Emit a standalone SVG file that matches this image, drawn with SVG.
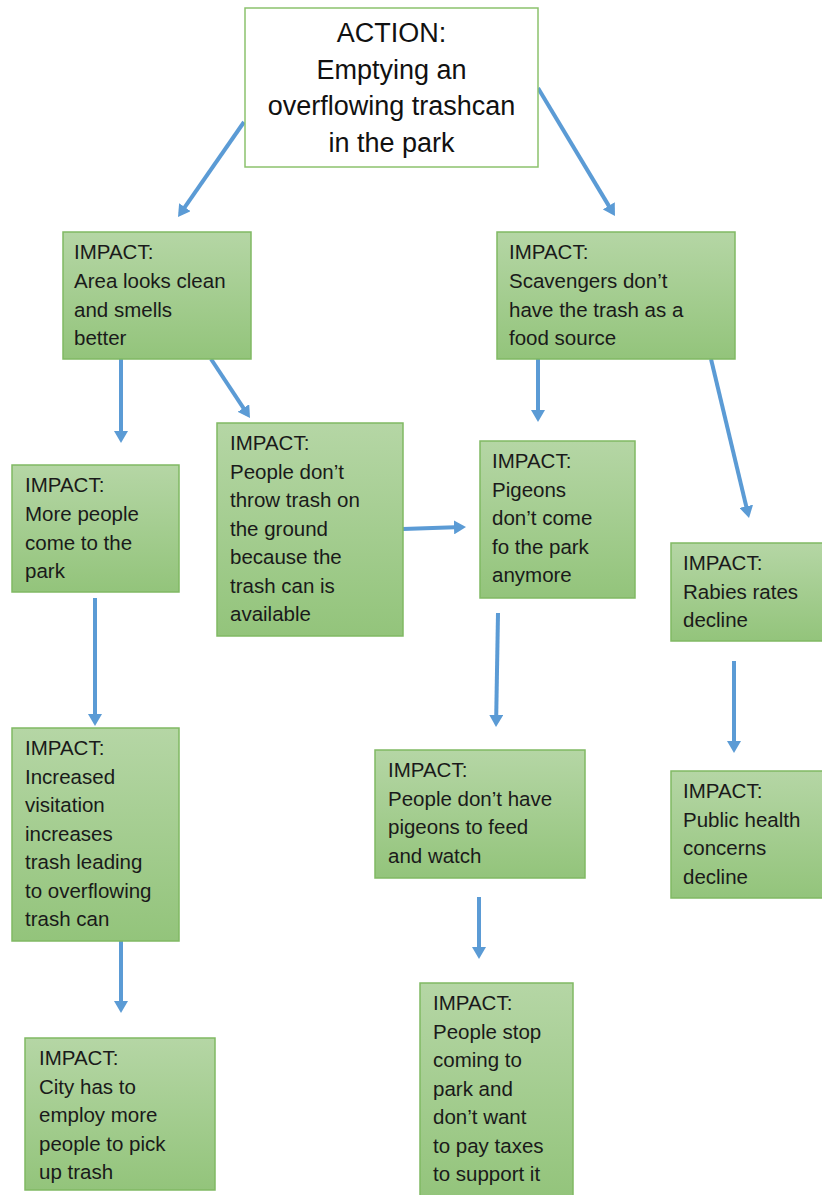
<svg xmlns="http://www.w3.org/2000/svg" width="822" height="1195" viewBox="0 0 822 1195">
<defs>
<linearGradient id="g" x1="0" y1="0" x2="0" y2="1">
<stop offset="0" stop-color="#b5d6a5"/>
<stop offset="1" stop-color="#93c47b"/>
</linearGradient>
<marker id="ah" markerUnits="userSpaceOnUse" markerWidth="14" markerHeight="14" refX="8" refY="7" orient="auto">
<path d="M0,0 L12,7 L0,14 z" fill="#5b9bd5"/>
</marker>
<style>
.box{fill:url(#g);stroke:#80b963;stroke-width:1.5}
.act{fill:#ffffff;stroke:#8cc26d;stroke-width:1.5}
.t{font-family:"Liberation Sans",Arial,sans-serif;font-size:20.5px;fill:#1a1a1a}
.at{font-family:"Liberation Sans",Arial,sans-serif;font-size:27px;fill:#111111;text-anchor:middle}
.c line{stroke:#5b9bd5;stroke-width:4;marker-end:url(#ah)}
</style>
</defs>
<rect width="822" height="1195" fill="#ffffff"/>
<g class="c" id="connectors">
<line x1="244" y1="122" x2="180.3" y2="213.7"/>
<line x1="538" y1="88" x2="612.9" y2="212.6"/>
<line x1="121" y1="359" x2="121" y2="439"/>
<line x1="211" y1="359" x2="247.8" y2="414.7"/>
<line x1="538" y1="359" x2="538" y2="418"/>
<line x1="711" y1="359" x2="748.1" y2="514.1"/>
<line x1="403" y1="529" x2="462" y2="527.1"/>
<line x1="95" y1="598" x2="95" y2="722"/>
<line x1="121" y1="941" x2="121" y2="1009"/>
<line x1="498" y1="613" x2="496.1" y2="723"/>
<line x1="734" y1="661" x2="734" y2="749"/>
<line x1="479" y1="897" x2="479" y2="955"/>
</g>
<g id="action">
<rect class="act" x="245" y="8" width="293" height="159"/>
<text class="at" x="391.5" y="42">ACTION:</text>
<text class="at" x="391.5" y="78.5">Emptying an</text>
<text class="at" x="391.5" y="115">overflowing trashcan</text>
<text class="at" x="391.5" y="151.5">in the park</text>
</g>
<g id="area">
<rect class="box" x="63" y="232" width="188" height="127"/>
<text class="t" x="74"><tspan x="74" y="259">IMPACT:</tspan><tspan x="74" y="288">Area looks clean</tspan><tspan x="74" y="317">and smells</tspan><tspan x="74" y="345">better</tspan></text>
</g>
<g id="scavengers">
<rect class="box" x="497" y="232" width="238" height="127"/>
<text class="t"><tspan x="509" y="259">IMPACT:</tspan><tspan x="509" y="288">Scavengers don’t</tspan><tspan x="509" y="317">have the trash as a</tspan><tspan x="509" y="345">food source</tspan></text>
</g>
<g id="more-people">
<rect class="box" x="12" y="465" width="167" height="127"/>
<text class="t"><tspan x="25" y="492">IMPACT:</tspan><tspan x="25" y="521">More people</tspan><tspan x="25" y="550">come to the</tspan><tspan x="25" y="578">park</tspan></text>
</g>
<g id="no-litter">
<rect class="box" x="217" y="423" width="186" height="213"/>
<text class="t"><tspan x="230" y="450">IMPACT:</tspan><tspan x="230" y="479">People don’t</tspan><tspan x="230" y="507">throw trash on</tspan><tspan x="230" y="536">the ground</tspan><tspan x="230" y="564">because the</tspan><tspan x="230" y="593">trash can is</tspan><tspan x="230" y="621">available</tspan></text>
</g>
<g id="pigeons">
<rect class="box" x="480" y="441" width="155" height="157"/>
<text class="t"><tspan x="492" y="468">IMPACT:</tspan><tspan x="492" y="497">Pigeons</tspan><tspan x="492" y="525">don’t come</tspan><tspan x="492" y="554">fo the park</tspan><tspan x="492" y="582">anymore</tspan></text>
</g>
<g id="rabies">
<rect class="box" x="671" y="543" width="155" height="98"/>
<text class="t"><tspan x="683" y="570">IMPACT:</tspan><tspan x="683" y="599">Rabies rates</tspan><tspan x="683" y="627">decline</tspan></text>
</g>
<g id="increased">
<rect class="box" x="12" y="728" width="167" height="213"/>
<text class="t"><tspan x="25" y="755">IMPACT:</tspan><tspan x="25" y="784">Increased</tspan><tspan x="25" y="812">visitation</tspan><tspan x="25" y="841">increases</tspan><tspan x="25" y="869">trash leading</tspan><tspan x="25" y="898">to overflowing</tspan><tspan x="25" y="926">trash can</tspan></text>
</g>
<g id="no-pigeons">
<rect class="box" x="375" y="750" width="210" height="128"/>
<text class="t"><tspan x="388" y="777">IMPACT:</tspan><tspan x="388" y="806">People don’t have</tspan><tspan x="388" y="834">pigeons to feed</tspan><tspan x="388" y="863">and watch</tspan></text>
</g>
<g id="public-health">
<rect class="box" x="671" y="771" width="155" height="127"/>
<text class="t"><tspan x="683" y="798">IMPACT:</tspan><tspan x="683" y="827">Public health</tspan><tspan x="683" y="855">concerns</tspan><tspan x="683" y="884">decline</tspan></text>
</g>
<g id="city">
<rect class="box" x="25" y="1038" width="190" height="152"/>
<text class="t"><tspan x="39" y="1065">IMPACT:</tspan><tspan x="39" y="1094">City has to</tspan><tspan x="39" y="1122">employ more</tspan><tspan x="39" y="1151">people to pick</tspan><tspan x="39" y="1179">up trash</tspan></text>
</g>
<g id="stop-coming">
<rect class="box" x="420" y="983" width="153" height="216"/>
<text class="t"><tspan x="433" y="1010">IMPACT:</tspan><tspan x="433" y="1039">People stop</tspan><tspan x="433" y="1067">coming to</tspan><tspan x="433" y="1096">park and</tspan><tspan x="433" y="1124">don’t want</tspan><tspan x="433" y="1153">to pay taxes</tspan><tspan x="433" y="1181">to support it</tspan></text>
</g>
</svg>
